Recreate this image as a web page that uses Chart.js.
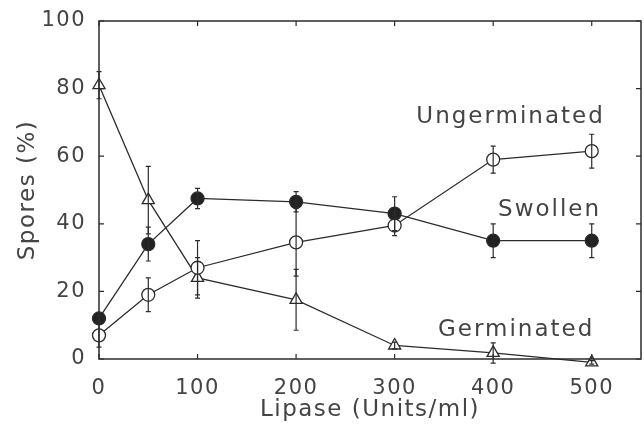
<!DOCTYPE html>
<html>
<head>
<meta charset="utf-8">
<script src="https://cdn.jsdelivr.net/npm/chart.js@4"></script>
<style>
  html, body { margin: 0; padding: 0; background: #fff; }
  #wrap { width: 644px; height: 424px; }
</style>
</head>
<body>
<div id="wrap"><canvas id="chart"></canvas></div>
<script>
// lipase dose (Units/ml)
const lipase = [0, 50, 100, 200, 300, 400, 500];

// spores (%) with error bars
const ungerminated    = [7, 19, 27, 34.5, 39.5, 59, 61.5];
const ungerminatedErr = [3.5, 5, 8, 10, 3, 4, 5];
const swollen         = [12, 34, 47.5, 46.5, 43, 35, 35];
const swollenErr      = [1, 5, 3, 3, 5, 5, 5];
const germinated      = [81, 47, 24, 17.5, 4, 1.8, -1];
const germinatedErr   = [4, 10, 6, 9, 1, 3, 0.5];

const xTicks = [0, 100, 200, 300, 400, 500];
const yTicks = [0, 20, 40, 60, 80, 100];

const ink = '#2b2b2b';
const textGray = '#444';
const font = 'DejaVu Sans';

function pts(ys) {
  return lipase.map((x, i) => ({ x: x, y: ys[i] }));
}

const errors = [ungerminatedErr, swollenErr, germinatedErr];

// wide lettering like the original
const spacing = {
  id: 'spacing',
  beforeDraw(chart) { chart.ctx.letterSpacing = '1.5px'; }
};

// error bars, frame and inward ticks
const extras = {
  id: 'extras',
  afterDatasetsDraw(chart) {
    const ctx = chart.ctx;
    const xs = chart.scales.x, ys = chart.scales.y;
    const area = chart.chartArea;
    ctx.save();
    ctx.strokeStyle = ink;
    ctx.lineWidth = 1.2;

    // error bars
    chart.data.datasets.forEach((ds, di) => {
      const err = errors[di];
      ds.data.forEach((p, i) => {
        if (!err[i]) return;
        const px = xs.getPixelForValue(p.x);
        const top = ys.getPixelForValue(p.y + err[i]);
        const bot = ys.getPixelForValue(p.y - err[i]);
        ctx.beginPath();
        ctx.moveTo(px, top); ctx.lineTo(px, bot);
        ctx.moveTo(px - 2.5, top); ctx.lineTo(px + 2.5, top);
        ctx.moveTo(px - 2.5, bot); ctx.lineTo(px + 2.5, bot);
        ctx.stroke();
      });
    });

    // frame
    ctx.lineWidth = 1.5;
    ctx.strokeRect(area.left, area.top, area.right - area.left, area.bottom - area.top);

    // inward ticks
    ctx.lineWidth = 1.2;
    ctx.beginPath();
    xTicks.forEach(v => {
      const px = xs.getPixelForValue(v);
      ctx.moveTo(px, area.bottom); ctx.lineTo(px, area.bottom - 5);
      ctx.moveTo(px, area.top); ctx.lineTo(px, area.top + 5);
    });
    yTicks.forEach(v => {
      const py = ys.getPixelForValue(v);
      ctx.moveTo(area.left, py); ctx.lineTo(area.left + 5, py);
      ctx.moveTo(area.right, py); ctx.lineTo(area.right - 5, py);
    });
    ctx.stroke();

    // curve labels
    ctx.fillStyle = textGray;
    ctx.font = '23px "' + font + '"';
    ctx.letterSpacing = '2px';
    ctx.textBaseline = 'middle';
    ctx.textAlign = 'left';
    [['Ungerminated', 322, 71.5], ['Swollen', 405, 44], ['Germinated', 344, 8.6]].forEach(l => {
      ctx.fillText(l[0], xs.getPixelForValue(l[1]), ys.getPixelForValue(l[2]));
    });
    ctx.restore();
  }
};

const common = {
  borderColor: ink,
  borderWidth: 1.3,
  pointBorderColor: ink,
  pointBorderWidth: 1.3,
  pointRadius: 6.5,
  showLine: true,
  tension: 0,
  clip: false
};

new Chart(document.getElementById('chart'), {
  type: 'scatter',
  data: {
    datasets: [
      Object.assign({ label: 'Ungerminated', data: pts(ungerminated), pointStyle: 'circle', pointBackgroundColor: '#fff' }, common),
      Object.assign({ label: 'Swollen', data: pts(swollen), pointStyle: 'circle', pointBackgroundColor: '#222' }, common),
      Object.assign({ label: 'Germinated', data: pts(germinated), pointStyle: 'triangle', pointBackgroundColor: '#fff' }, common, { pointRadius: 7 })
    ]
  },
  options: {
    responsive: true,
    maintainAspectRatio: false,
    animation: false,
    layout: { autoPadding: false, padding: { top: 21, right: 3, left: 0, bottom: 0 } },
    plugins: { legend: { display: false }, tooltip: { enabled: false } },
    scales: {
      x: {
        type: 'linear',
        min: 0,
        max: 550,
        afterBuildTicks: s => { s.ticks = xTicks.map(v => ({ value: v })); },
        afterFit: s => { s.height = 65; },
        grid: { display: false },
        border: { display: false },
        ticks: { color: textGray, padding: 9, font: { family: font, size: 21 }, maxRotation: 0 },
        title: { display: true, text: 'Lipase (Units/ml)', color: textGray, padding: { top: -2, bottom: 0 }, font: { family: font, size: 23 } }
      },
      y: {
        min: 0,
        max: 100,
        afterBuildTicks: s => { s.ticks = yTicks.map(v => ({ value: v })); },
        afterFit: s => { s.width = 99; },
        grid: { display: false },
        border: { display: false },
        ticks: { color: textGray, padding: 5, font: { family: font, size: 21 } },
        title: { display: true, text: 'Spores (%)', color: textGray, padding: { top: 14, bottom: 4 }, font: { family: font, size: 23 } }
      }
    }
  },
  plugins: [spacing, extras]
});
</script>
</body>
</html>
